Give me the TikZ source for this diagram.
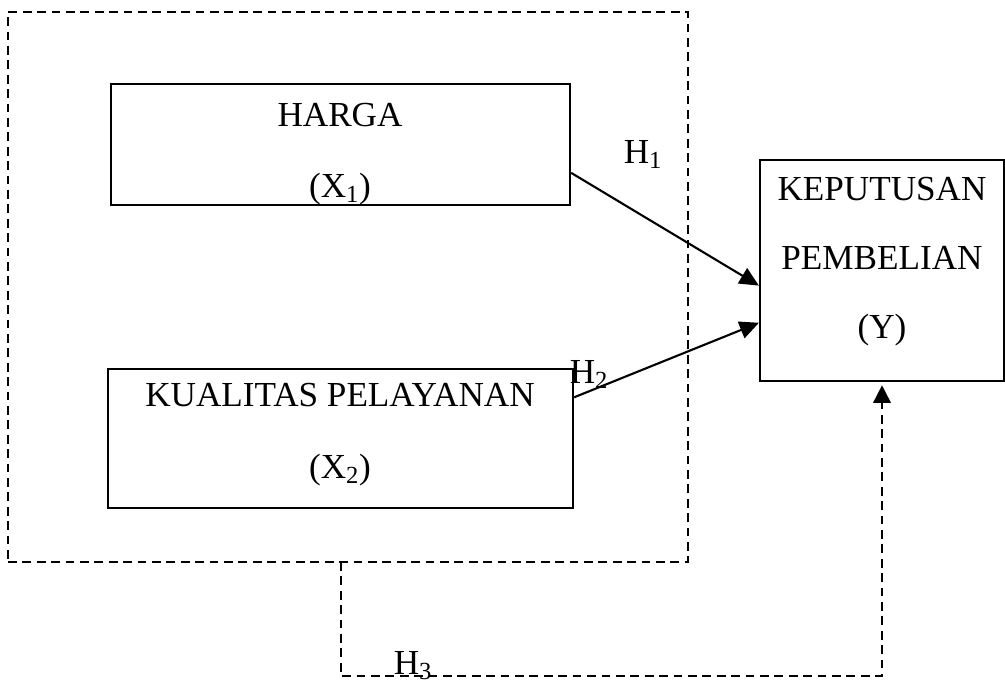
\documentclass[tikz,border=0pt]{standalone}
\usepackage{fontspec}
\setmainfont{Liberation Serif}
\usetikzlibrary{arrows.meta, positioning}

\tikzset{
  kotak/.style={draw, line width=1.5pt, inner sep=0pt},
  teks/.style={anchor=base, inner sep=0pt},
  garis/.style={dash pattern=on 0.22cm off 0.14cm, line width=1.2pt},
  panah/.style={line width=1.5pt, -{Triangle[length=0.48cm, width=0.44cm]}}
}

\begin{document}
\begin{tikzpicture}[x=0.025cm, y=-0.025cm, font=\fontsize{25}{30}\selectfont]
		\useasboundingbox (0,0) rectangle (1005,680);
		% Kotak
		\node[garis, draw, minimum width=17cm, minimum height=13.75cm, inner sep=0pt] (grup) at (348,287) {};
		\node[kotak, minimum width=11.475cm, minimum height=3.025cm] (harga) at (340.5,144.5) {};
		\node[kotak, minimum width=11.625cm, minimum height=3.475cm] (kualitas) at (340.5,438.5) {};
		\node[kotak, minimum width=6.1cm, minimum height=5.525cm] (keputusan) at (882,270.5) {};

		% Teks
		\node[teks] (t_harga) at (340,126) {HARGA};
		\node[teks] (t_x1) at (340,197) {(X\textsubscript{1})};
		\node[teks] (t_kualitas) at (340,406) {KUALITAS PELAYANAN};
		\node[teks] (t_x2) at (340,478) {(X\textsubscript{2})};
		\node[teks] (t_keputusan) at (882,200) {KEPUTUSAN};
		\node[teks] (t_pembelian) at (882,269) {PEMBELIAN};
		\node[teks] (t_y) at (882,338) {(Y)};
		\node[teks] (h1) at (643,163) {H\textsubscript{1}};
		\node[teks] (h2) at (589,383) {H\textsubscript{2}};
		\node[teks] (h3) at (413,674) {H\textsubscript{3}};

		% Panah
		\draw[panah] (harga.-7) -- (keputusan.187);
		\draw[panah] (kualitas.10) -- (keputusan.203);
		\coordinate (h3atas) at (341,562);
		\coordinate (h3bawah) at (341,676);
		\draw[garis, shorten >=0.08cm, -{Triangle[length=0.44cm, width=0.44cm]}] (h3atas) -- (h3bawah) -| (keputusan.south);
	\end{tikzpicture}
\end{document}
